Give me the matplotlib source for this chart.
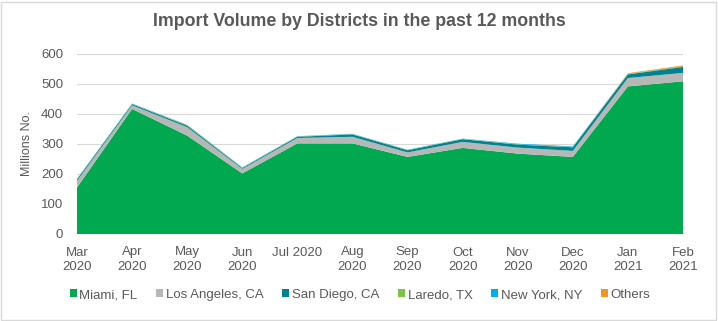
import matplotlib.pyplot as plt
from matplotlib.patches import Rectangle

plt.rcParams['font.family'] = ['Liberation Sans', 'DejaVu Sans']

months = ['Mar\n2020', 'Apr\n2020', 'May\n2020', 'Jun\n2020', 'Jul 2020', 'Aug\n2020',
          'Sep\n2020', 'Oct\n2020', 'Nov\n2020', 'Dec\n2020', 'Jan\n2021', 'Feb\n2021']

miami = [155, 417, 328, 202, 302, 302, 257, 287, 268, 257, 492, 509]
los_angeles = [22, 12, 28, 15, 18, 22, 15, 20, 20, 20, 28, 28]
san_diego = [5, 4, 5, 3, 4, 8, 7, 9, 10, 12, 12, 20]
laredo = [1, 1, 2, 1, 1, 1, 1, 1, 1, 1, 1, 1]
new_york = [1, 1, 1, 1, 1, 1, 1, 1, 2, 2, 1, 1]
others = [0, 0, 0, 0, 0, 0, 0, 0, 0, 0, 2, 3]

series = [miami, los_angeles, san_diego, laredo, new_york, others]
names = ['Miami, FL', 'Los Angeles, CA', 'San Diego, CA', 'Laredo, TX', 'New York, NY', 'Others']
colors = ['#00A94F', '#B7B7B7', '#00838F', '#7DC242', '#00AEEF', '#F7941D']

fig = plt.figure(figsize=(7.18, 3.21), dpi=100)
fig.patches.append(Rectangle((0.002, 0.004), 0.995, 0.99, transform=fig.transFigure,
                             fill=False, edgecolor='#D9D9D9', linewidth=1))
ax = fig.add_axes([77 / 718, 1 - 234 / 321, (683 - 77) / 718, (234 - 54) / 321])

x = list(range(len(months)))
ax.stackplot(x, *series, labels=names, colors=colors, linewidth=0)

ax.set_xlim(0, len(months) - 1)
ax.set_ylim(0, 600)
ax.set_yticks(range(0, 601, 100))
ax.set_xticks(x)
ax.set_xticklabels(months, linespacing=1.25)
ax.tick_params(axis='both', length=0, labelsize=9.5, colors='#595959')
ax.tick_params(axis='x', pad=9)
ax.tick_params(axis='y', pad=10)
ax.grid(axis='y', color='#D9D9D9', linewidth=0.8)
ax.set_axisbelow(True)
for s in ax.spines.values():
    s.set_visible(False)

ax.set_ylabel('Millions No.', fontsize=9, color='#595959', labelpad=6)
fig.text(0.5, 1 - 22 / 321, 'Import Volume by Districts in the past 12 months',
         ha='center', va='center', fontsize=12.8, fontweight='bold', color='#595959')

ax.legend(loc='center', bbox_to_anchor=(360 / 718, 1 - 295 / 321),
          bbox_transform=fig.transFigure, ncol=6, frameon=False, fontsize=9.5,
          handlelength=0.55, handleheight=0.55, handletextpad=0.2, columnspacing=1.4,
          labelcolor='#595959')

fig.savefig('out.png', dpi=100)
